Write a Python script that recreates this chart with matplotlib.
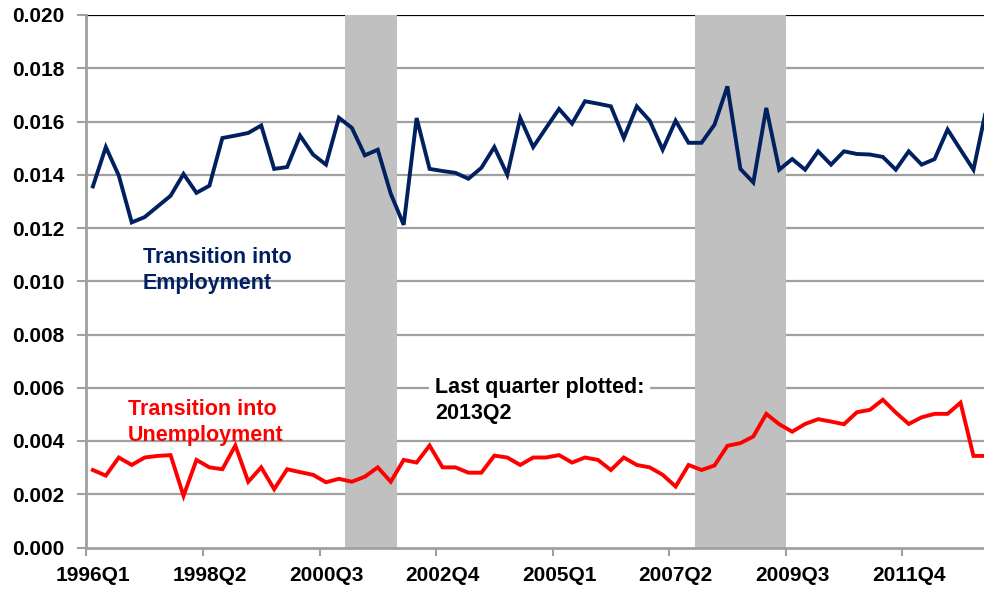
import matplotlib
matplotlib.use("Agg")
import matplotlib.pyplot as plt
import numpy as np

plt.rcParams['font.family'] = ['Liberation Sans', 'DejaVu Sans']
plt.rcParams['font.weight'] = 'bold'

# Quarters 1996Q1 .. 2013Q2
quarters = [f"{y}Q{q}" for y in range(1996, 2014) for q in range(1, 5)][:70]

employment = [
    0.01356, 0.01504, 0.01397, 0.01221, 0.01241, 0.01281, 0.01321, 0.01403, 0.01332, 0.01359,
    0.01538, 0.01547, 0.01557, 0.01585, 0.01422, 0.01429, 0.01547, 0.01476, 0.01438, 0.01614,
    0.01576, 0.01473, 0.01494, 0.01329, 0.01212, 0.01613, 0.01422, 0.01414, 0.01407, 0.01385,
    0.01426, 0.01504, 0.01400, 0.01613, 0.01504, 0.01576, 0.01647, 0.01592, 0.01676, 0.01667,
    0.01657, 0.01538, 0.01657, 0.01603, 0.01494, 0.01603, 0.01520, 0.01520, 0.01588, 0.01732,
    0.01422, 0.01371, 0.01651, 0.01419, 0.01459, 0.01419, 0.01488, 0.01438, 0.01488, 0.01478,
    0.01476, 0.01467, 0.01419, 0.01488, 0.01438, 0.01459, 0.01570, 0.01494, 0.01419, 0.01650,
]

unemployment = [
    0.00291, 0.00270, 0.00338, 0.00310, 0.00338, 0.00344, 0.00347, 0.00194, 0.00329, 0.00301,
    0.00294, 0.00383, 0.00247, 0.00301, 0.00219, 0.00294, 0.00283, 0.00273, 0.00245, 0.00258,
    0.00247, 0.00266, 0.00301, 0.00247, 0.00329, 0.00319, 0.00383, 0.00301, 0.00301, 0.00281,
    0.00281, 0.00345, 0.00338, 0.00310, 0.00338, 0.00338, 0.00347, 0.00319, 0.00338, 0.00329,
    0.00291, 0.00338, 0.00310, 0.00301, 0.00273, 0.00229, 0.00310, 0.00291, 0.00308, 0.00382,
    0.00392, 0.00417, 0.00502, 0.00463, 0.00435, 0.00464, 0.00482, 0.00473, 0.00463, 0.00508,
    0.00517, 0.00555, 0.00507, 0.00464, 0.00489, 0.00502, 0.00502, 0.00544, 0.00344, 0.00344,
]

# Recession spans (category boundaries: first quarter index, index after last quarter)
recessions = [(20, 24), (47, 54)]

tick_every = 9
y_ticks = [0.000, 0.002, 0.004, 0.006, 0.008, 0.010, 0.012, 0.014, 0.016, 0.018, 0.020]

navy = '#002060'
red = '#FF0000'
grid_grey = '#A0A0A0'

W, H = 984, 590
fig = plt.figure(figsize=(W / 100, H / 100), dpi=100)
ax = fig.add_axes([86.4 / W, 42.5 / H, 906.5 / W, 532.5 / H])

x = np.arange(len(quarters))

for a, b in recessions:
    ax.axvspan(a - 0.5, b - 0.5, color='#C0C0C0', lw=0, zorder=1)

for v in y_ticks[1:-1]:
    ax.axhline(v, color=grid_grey, lw=1.6, zorder=0)
ax.axhline(0.020, color='black', lw=1.6, zorder=0)

ax.plot(x, employment, color=navy, lw=2.8, zorder=3, solid_joinstyle='miter')
ax.plot(x, unemployment, color=red, lw=2.8, zorder=3, solid_joinstyle='miter')

ax.set_xlim(-0.5, len(quarters) - 0.5)
ax.set_ylim(0, 0.020)

# y axis
ax.set_yticks(y_ticks)
ax.set_yticklabels([f"{v:.3f}" for v in y_ticks], fontsize=15, fontweight='bold')
ax.tick_params(axis='y', direction='out', length=6.5, width=1.5, color=grid_grey, pad=9)

# x axis: tick marks on category boundaries, labels at category centres
label_idx = list(range(0, len(quarters), tick_every))
ax.set_xticks([i - 0.5 for i in label_idx])
ax.set_xticklabels([])
ax.tick_params(axis='x', which='major', direction='out', length=6, width=1.5, color=grid_grey)
ax.set_xticks(label_idx, minor=True)
ax.set_xticklabels([quarters[i] for i in label_idx], minor=True, fontsize=15, fontweight='bold')
ax.tick_params(axis='x', which='minor', length=0, pad=13)

for s in ['top', 'right']:
    ax.spines[s].set_visible(False)
for s in ['left', 'bottom']:
    ax.spines[s].set_color(grid_grey)
    ax.spines[s].set_linewidth(2)
    ax.spines[s].set_zorder(2)

ax.text(3.85, 0.01128, "Transition into\nEmployment", color=navy, fontsize=15.5,
        fontweight='bold', va='top', ha='left', linespacing=1.3, zorder=4)
ax.text(2.7, 0.00556, "Transition into\nUnemployment", color=red, fontsize=15.5,
        fontweight='bold', va='top', ha='left', linespacing=1.3, zorder=4)
ax.text(26.4, 0.00640, "Last quarter plotted:\n2013Q2", color='black', fontsize=15.5,
        fontweight='bold', va='top', ha='left', linespacing=1.3, zorder=4,
        bbox=dict(facecolor='white', edgecolor='none', pad=4))

fig.savefig("out.png", dpi=100)
